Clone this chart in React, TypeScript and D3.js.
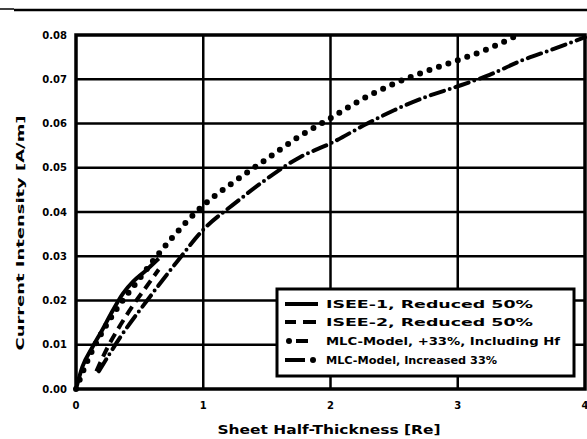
import React from "react";
import * as d3 from "d3";

// Sheet half-thickness (Re) vs current intensity (A/m)
const xTicks = [0, 1, 2, 3, 4];
const yTicks = [0, 0.01, 0.02, 0.03, 0.04, 0.05, 0.06, 0.07, 0.08];

const isee1X = [0, 0.05, 0.13, 0.2, 0.29, 0.37, 0.45, 0.55, 0.65];
const isee1Y = [0, 0.005, 0.0095, 0.013, 0.0178, 0.0216, 0.0243, 0.0268, 0.0295];

const isee2X = [0.16, 0.25, 0.35, 0.45, 0.55, 0.65];
const isee2Y = [0.004, 0.0095, 0.0145, 0.019, 0.023, 0.027];

const mlcHfX = [0, 0.1, 0.25, 0.5, 0.75, 1, 1.25, 1.5, 1.75, 2, 2.25, 2.5, 2.75, 3, 3.25, 3.45];
const mlcHfY = [0, 0.007, 0.015, 0.025, 0.034, 0.0415, 0.047, 0.052, 0.057, 0.0612, 0.0655, 0.069, 0.0718, 0.0743, 0.077, 0.0797];

const mlc33X = [0.18, 0.35, 0.58, 0.8, 1, 1.25, 1.5, 1.76, 2, 2.29, 2.5, 2.75, 3.03, 3.25, 3.5, 3.75, 4];
const mlc33Y = [0.004, 0.0118, 0.0208, 0.029, 0.036, 0.042, 0.0475, 0.0524, 0.0555, 0.06, 0.063, 0.066, 0.0687, 0.071, 0.0742, 0.0768, 0.0795];

const legendLabels = [
  "ISEE-1, Reduced 50%",
  "ISEE-2, Reduced 50%",
  "MLC-Model, +33%, Including Hf",
  "MLC-Model, Increased 33%",
];
const legendWidths = [207, 207, 234, 171];

const W = 587;
const H = 439;
const left = 76, right = 585, top = 35, bottom = 389;
const FONT = "'DejaVu Sans', Arial, sans-serif";

export default function App() {
  const x = d3.scaleLinear().domain([0, 4]).range([left, right]);
  const y = d3.scaleLinear().domain([0, 0.08]).range([bottom, top]);
  const line = d3
    .line<[number, number]>()
    .x((d) => x(d[0]))
    .y((d) => y(d[1]))
    .curve(d3.curveMonotoneX);
  const pts = (xs: number[], ys: number[]) => xs.map((v, i) => [v, ys[i]] as [number, number]);
  const fmt = d3.format(".2f");

  const lx = 277, ly = 289, lw = 297, lh = 87;
  const rows = [304, 322, 341, 360];

  return (
    <svg
      width={W}
      height={H}
      style={{ position: "absolute", left: 0, top: 0, background: "#fff" }}
      fontFamily={FONT}
    >
      <rect width={W} height={H} fill="#fff" />
      {/* page rule */}
      <line x1={0} x2={14} y1={9} y2={9} stroke="#000" strokeWidth={1.5} />
      <line x1={14} x2={W} y1={10} y2={10} stroke="#000" strokeWidth={2.5} />

      {/* grid */}
      {yTicks.slice(1, -1).map((t) => (
        <line key={"gy" + t} x1={left} x2={right} y1={y(t)} y2={y(t)} stroke="#000" strokeWidth={2.5} />
      ))}
      {xTicks.slice(1, -1).map((t) => (
        <line key={"gx" + t} x1={x(t)} x2={x(t)} y1={top} y2={bottom} stroke="#000" strokeWidth={2.5} />
      ))}
      <rect x={left} y={top} width={right - left} height={bottom - top} fill="none" stroke="#000" strokeWidth={3.5} />

      {/* curves */}
      <path d={line(pts(isee1X, isee1Y)) || ""} fill="none" stroke="#000" strokeWidth={4} />
      <path d={line(pts(isee2X, isee2Y)) || ""} fill="none" stroke="#000" strokeWidth={4} strokeDasharray="10 6" />
      <path
        d={line(pts(mlcHfX, mlcHfY)) || ""}
        fill="none"
        stroke="#000"
        strokeWidth={6}
        strokeLinecap="round"
        strokeDasharray="0 10"
      />
      <path
        d={line(pts(mlc33X, mlc33Y)) || ""}
        fill="none"
        stroke="#000"
        strokeWidth={4}
        strokeLinecap="round"
        strokeDasharray="14 6 0 6"
      />

      {/* y tick labels */}
      {yTicks.map((t) => (
        <text key={"ty" + t} x={67} y={y(t) + 3.5} textAnchor="end" fontSize={10} fontWeight="bold">
          {fmt(t)}
        </text>
      ))}
      {/* x tick labels */}
      {xTicks.map((t) => (
        <text key={"tx" + t} x={x(t)} y={409} textAnchor="middle" fontSize={10} fontWeight="bold">
          {t}
        </text>
      ))}

      <text x={329} y={434} textAnchor="middle" fontSize={12} fontWeight="bold" textLength={223} lengthAdjust="spacingAndGlyphs">
        Sheet Half-Thickness [Re]
      </text>
      <text
        transform={`translate(24,233) rotate(-90)`}
        textAnchor="middle"
        fontSize={11}
        fontWeight="bold"
        textLength={235}
        lengthAdjust="spacingAndGlyphs"
      >
        Current Intensity [A/m]
      </text>

      {/* legend */}
      <rect x={lx} y={ly} width={lw} height={lh} fill="#fff" stroke="#000" strokeWidth={3} />
      <line x1={285} x2={318} y1={rows[0]} y2={rows[0]} stroke="#000" strokeWidth={4} />
      <line x1={285} x2={296} y1={rows[1]} y2={rows[1]} stroke="#000" strokeWidth={4} />
      <line x1={303} x2={316} y1={rows[1]} y2={rows[1]} stroke="#000" strokeWidth={4} />
      <circle cx={289} cy={rows[2]} r={3} fill="#000" />
      <line x1={296} x2={308} y1={rows[2]} y2={rows[2]} stroke="#000" strokeWidth={4} />
      <line x1={285} x2={305} y1={rows[3]} y2={rows[3]} stroke="#000" strokeWidth={4} />
      <circle cx={313} cy={rows[3]} r={3} fill="#000" />
      {legendLabels.map((s, i) => (
        <text
          key={s}
          x={326}
          y={rows[i] + 4}
          fontSize={10.5}
          fontWeight="bold"
          textLength={legendWidths[i]}
          lengthAdjust="spacingAndGlyphs"
        >
          {s}
        </text>
      ))}
    </svg>
  );
}
